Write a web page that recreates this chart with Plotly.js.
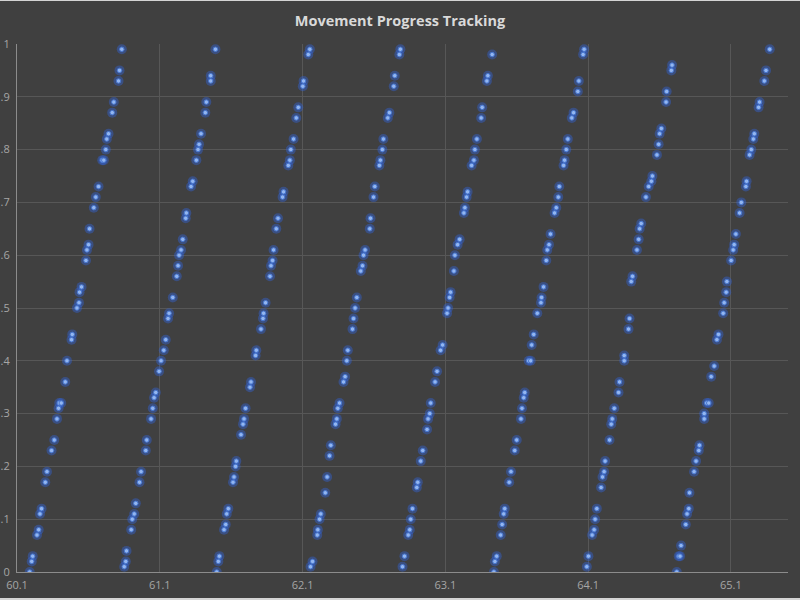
<!DOCTYPE html>
<html>
<head>
<meta charset="utf-8">
<script src="https://cdn.plot.ly/plotly-3.0.1.min.js"></script>
<style>
  html, body { margin: 0; padding: 0; background: #d4d4d4; }
  #chart { position: absolute; left: 0; top: 1px; width: 800px; height: 597px; }
</style>
</head>
<body>
<div id="chart"></div>
<script>
// Time (x) and progress (y) for each movement sweep
const sweep1X = [60.189,60.203,60.210,60.240,60.252,60.261,60.272,60.298,60.310,60.342,60.361,60.380,60.391,60.396,60.410,60.438,60.450,60.482,60.487,60.520,60.534,60.538,60.552,60.583,60.590,60.601,60.608,60.638,60.652,60.671,60.697,60.708,60.722,60.729,60.741,60.767,60.778,60.811,60.818,60.834];
const sweep1Y = [0.00,0.02,0.03,0.07,0.08,0.11,0.12,0.17,0.19,0.23,0.25,0.29,0.31,0.32,0.32,0.36,0.40,0.44,0.45,0.50,0.51,0.53,0.54,0.59,0.61,0.62,0.65,0.69,0.71,0.73,0.78,0.78,0.80,0.82,0.83,0.87,0.89,0.93,0.95,0.99];

const sweep2X = [60.851,60.862,60.867,60.900,60.907,60.921,60.932,60.958,60.969,61.002,61.009,61.039,61.051,61.060,61.072,61.095,61.109,61.128,61.142,61.158,61.165,61.191,61.219,61.228,61.235,61.249,61.261,61.282,61.286,61.319,61.331,61.356,61.368,61.375,61.389,61.419,61.426,61.457,61.457,61.490];
const sweep2Y = [0.01,0.02,0.04,0.08,0.10,0.11,0.13,0.17,0.19,0.23,0.25,0.29,0.31,0.33,0.34,0.38,0.40,0.42,0.44,0.48,0.49,0.52,0.56,0.58,0.60,0.61,0.63,0.67,0.68,0.73,0.74,0.78,0.80,0.81,0.83,0.87,0.89,0.93,0.94,0.99];

const sweep3X = [61.499,61.510,61.517,61.550,61.562,61.569,61.580,61.613,61.620,61.631,61.636,61.669,61.683,61.690,61.701,61.732,61.739,61.771,61.776,61.809,61.823,61.827,61.841,61.872,61.879,61.890,61.897,61.916,61.928,61.960,61.967,62.000,62.011,62.018,62.037,62.056,62.070,62.102,62.107,62.140,62.151];
const sweep3Y = [0.00,0.02,0.03,0.08,0.09,0.11,0.12,0.17,0.18,0.20,0.21,0.26,0.28,0.29,0.31,0.35,0.36,0.41,0.42,0.46,0.48,0.49,0.51,0.56,0.58,0.59,0.61,0.65,0.67,0.71,0.72,0.77,0.78,0.80,0.82,0.86,0.88,0.92,0.93,0.98,0.99];

const sweep4X = [62.156,62.170,62.203,62.207,62.219,62.228,62.259,62.272,62.289,62.298,62.331,62.340,62.347,62.359,62.387,62.398,62.410,62.417,62.450,62.457,62.468,62.480,62.508,62.520,62.527,62.538,62.571,62.576,62.597,62.606,62.638,62.645,62.659,62.666,62.697,62.708,62.739,62.746,62.778,62.785];
const sweep4Y = [0.01,0.02,0.07,0.08,0.10,0.11,0.15,0.18,0.22,0.24,0.28,0.29,0.31,0.32,0.36,0.37,0.40,0.42,0.46,0.48,0.50,0.52,0.57,0.58,0.60,0.61,0.65,0.67,0.71,0.73,0.77,0.78,0.80,0.82,0.86,0.87,0.92,0.94,0.98,0.99];

const sweep5X = [62.800,62.814,62.840,62.851,62.858,62.870,62.900,62.907,62.928,62.942,62.972,62.979,62.991,62.998,63.028,63.042,63.067,63.081,63.112,63.119,63.130,63.137,63.160,63.167,63.186,63.200,63.230,63.237,63.249,63.256,63.284,63.300,63.307,63.321,63.351,63.358,63.391,63.398,63.428];
const sweep5Y = [0.01,0.03,0.07,0.08,0.10,0.12,0.16,0.17,0.21,0.23,0.27,0.29,0.30,0.32,0.36,0.38,0.42,0.43,0.49,0.50,0.52,0.53,0.57,0.60,0.62,0.63,0.68,0.69,0.71,0.72,0.77,0.78,0.80,0.82,0.86,0.88,0.93,0.94,0.98];

const sweep6X = [63.440,63.447,63.460,63.488,63.498,63.509,63.516,63.547,63.560,63.586,63.600,63.630,63.637,63.649,63.656,63.684,63.698,63.705,63.719,63.744,63.770,63.774,63.788,63.807,63.814,63.826,63.837,63.865,63.877,63.891,63.898,63.928,63.935,63.947,63.958,63.986,63.998,64.028,64.035,64.065,64.072];
const sweep6Y = [0.00,0.02,0.03,0.07,0.09,0.11,0.12,0.17,0.19,0.23,0.25,0.29,0.31,0.33,0.34,0.40,0.40,0.43,0.45,0.49,0.51,0.52,0.54,0.59,0.61,0.62,0.64,0.68,0.69,0.71,0.73,0.77,0.78,0.80,0.82,0.86,0.87,0.91,0.93,0.98,0.99];

const sweep7X = [64.091,64.102,64.128,64.142,64.149,64.161,64.191,64.201,64.212,64.219,64.250,64.262,64.269,64.283,64.313,64.320,64.353,64.353,64.383,64.390,64.402,64.411,64.442,64.454,64.461,64.472,64.505,64.524,64.543,64.550,64.582,64.594,64.601,64.613,64.646,64.650,64.683,64.688];
const sweep7Y = [0.01,0.03,0.07,0.08,0.10,0.12,0.16,0.18,0.19,0.21,0.25,0.28,0.29,0.31,0.34,0.36,0.40,0.41,0.46,0.48,0.55,0.56,0.61,0.63,0.65,0.66,0.71,0.73,0.74,0.75,0.79,0.81,0.83,0.84,0.89,0.91,0.95,0.96];

const sweep8X = [64.721,64.735,64.744,64.751,64.784,64.793,64.805,64.810,64.842,64.856,64.875,64.880,64.913,64.913,64.931,64.945,64.962,64.983,65.002,65.013,65.046,65.053,65.067,65.072,65.102,65.116,65.123,65.135,65.161,65.173,65.205,65.210,65.231,65.243,65.257,65.264,65.294,65.301,65.334,65.346,65.372];
const sweep8Y = [0.00,0.03,0.03,0.05,0.09,0.11,0.12,0.15,0.19,0.21,0.23,0.24,0.29,0.30,0.32,0.32,0.37,0.39,0.44,0.45,0.49,0.51,0.53,0.55,0.59,0.61,0.62,0.64,0.68,0.70,0.73,0.74,0.79,0.80,0.82,0.83,0.88,0.89,0.93,0.95,0.99];

const xTickVals = [60.1, 61.1, 62.1, 63.1, 64.1, 65.1];
const xTickText = ["60.1", "61.1", "62.1", "63.1", "64.1", "65.1"];
const yTickVals = [0, 0.1, 0.2, 0.3, 0.4, 0.5, 0.6, 0.7, 0.8, 0.9, 1];
const yTickText = ["0", ".1", ".2", ".3", ".4", ".5", ".6", ".7", ".8", ".9", "1"];

const timeValues = [].concat(sweep1X, sweep2X, sweep3X, sweep4X, sweep5X, sweep6X, sweep7X, sweep8X);
const progressValues = [].concat(sweep1Y, sweep2Y, sweep3Y, sweep4Y, sweep5Y, sweep6Y, sweep7Y, sweep8Y);

const glow = {
  x: timeValues, y: progressValues, type: 'scatter', mode: 'markers',
  marker: { size: 10, color: 'rgba(50,100,220,0.42)', line: { width: 0 } },
  hoverinfo: 'skip', showlegend: false
};
const core = {
  x: timeValues, y: progressValues, type: 'scatter', mode: 'markers',
  marker: { size: 4.5, color: '#93b6f0', line: { width: 1, color: '#4676d0' } },
  hoverinfo: 'skip', showlegend: false
};

const tickFont = { family: 'Open Sans, sans-serif', size: 11, color: '#a6a6a6' };

const layout = {
  width: 800, height: 597,
  paper_bgcolor: '#404040', plot_bgcolor: '#404040',
  margin: { l: 17, r: 12, t: 43, b: 26 },
  title: {
    text: 'Movement Progress Tracking',
    x: 0.5, xanchor: 'center', y: 0.967, yanchor: 'middle',
    font: { family: 'Open Sans, sans-serif', size: 14.5, color: '#d9d9d9', weight: 700 }
  },
  xaxis: {
    range: [60.1, 65.5], tickvals: xTickVals, ticktext: xTickText,
    showgrid: true, gridcolor: '#575757', gridwidth: 1,
    showline: true, linecolor: '#8c8c8c', linewidth: 1,
    zeroline: false, ticks: '', tickfont: tickFont, ticklabelstandoff: 3
  },
  yaxis: {
    range: [0, 1], tickvals: yTickVals, ticktext: yTickText,
    showgrid: true, gridcolor: '#575757', gridwidth: 1,
    showline: true, linecolor: '#8c8c8c', linewidth: 1,
    zeroline: false, ticks: '', tickfont: tickFont, ticklabelstandoff: 4
  },
  showlegend: false
};

Plotly.newPlot('chart', [glow, core], layout, { staticPlot: true, displayModeBar: false });
</script>
</body>
</html>
